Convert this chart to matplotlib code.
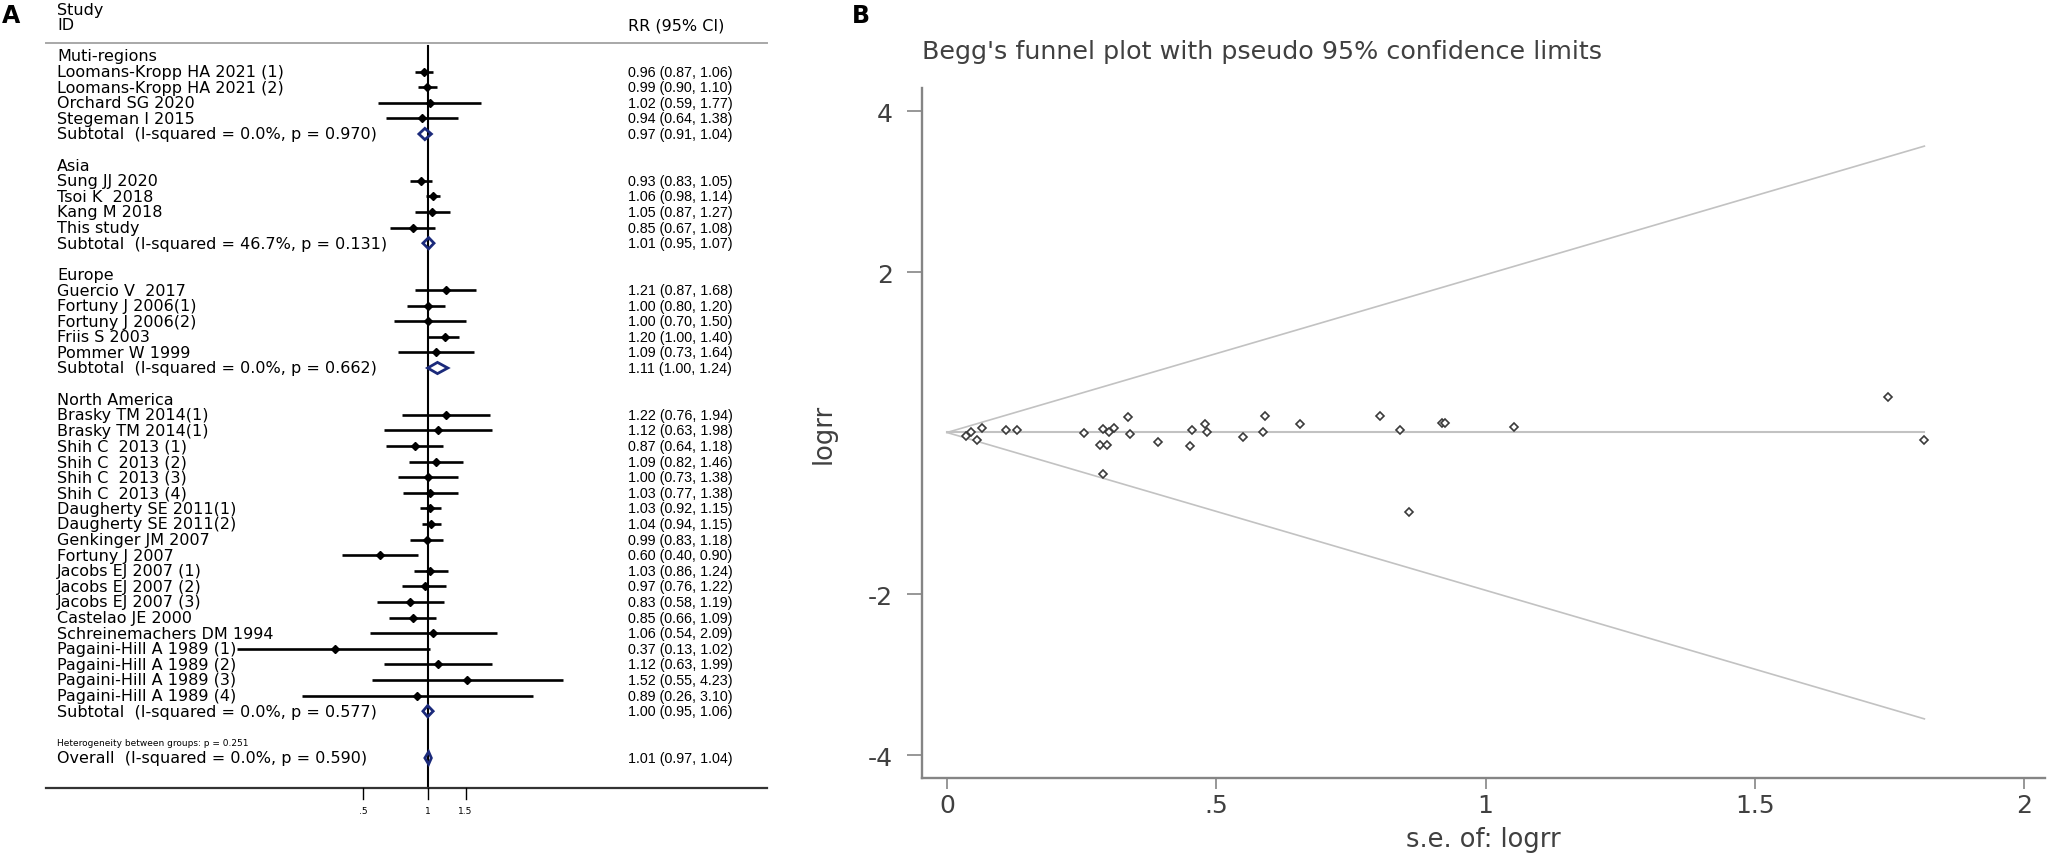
import numpy as np
import matplotlib
matplotlib.use("Agg")
import matplotlib.pyplot as plt
from matplotlib.patches import Polygon
import matplotlib.transforms as mtransforms

plt.rcParams['font.family'] = ['DejaVu Sans']

# ---------------- Forest plot data ----------------
region_names = ["Muti-regions", "Asia", "Europe", "North America"]
study_names = [
    "Loomans-Kropp HA 2021 (1)", "Loomans-Kropp HA 2021 (2)", "Orchard SG 2020", "Stegeman I 2015",
    "Sung JJ 2020", "Tsoi K  2018", "Kang M 2018", "This study",
    "Guercio V  2017", "Fortuny J 2006(1)", "Fortuny J 2006(2)", "Friis S 2003", "Pommer W 1999",
    "Brasky TM 2014(1)", "Brasky TM 2014(1)", "Shih C  2013 (1)", "Shih C  2013 (2)",
    "Shih C  2013 (3)", "Shih C  2013 (4)", "Daugherty SE 2011(1)", "Daugherty SE 2011(2)",
    "Genkinger JM 2007", "Fortuny J 2007", "Jacobs EJ 2007 (1)", "Jacobs EJ 2007 (2)",
    "Jacobs EJ 2007 (3)", "Castelao JE 2000", "Schreinemachers DM 1994",
    "Pagaini-Hill A 1989 (1)", "Pagaini-Hill A 1989 (2)", "Pagaini-Hill A 1989 (3)",
    "Pagaini-Hill A 1989 (4)",
]
study_region = [0] * 4 + [1] * 4 + [2] * 5 + [3] * 19
study_rr = [0.96, 0.99, 1.02, 0.94,
            0.93, 1.06, 1.05, 0.85,
            1.21, 1.00, 1.00, 1.20, 1.09,
            1.22, 1.12, 0.87, 1.09, 1.00, 1.03, 1.03, 1.04, 0.99, 0.60,
            1.03, 0.97, 0.83, 0.85, 1.06, 0.37, 1.12, 1.52, 0.89]
study_lo = [0.87, 0.90, 0.59, 0.64,
            0.83, 0.98, 0.87, 0.67,
            0.87, 0.80, 0.70, 1.00, 0.73,
            0.76, 0.63, 0.64, 0.82, 0.73, 0.77, 0.92, 0.94, 0.83, 0.40,
            0.86, 0.76, 0.58, 0.66, 0.54, 0.13, 0.63, 0.55, 0.26]
study_hi = [1.06, 1.10, 1.77, 1.38,
            1.05, 1.14, 1.27, 1.08,
            1.68, 1.20, 1.50, 1.40, 1.64,
            1.94, 1.98, 1.18, 1.46, 1.38, 1.38, 1.15, 1.15, 1.18, 0.90,
            1.24, 1.22, 1.19, 1.09, 2.09, 1.02, 1.99, 4.23, 3.10]
subtotal_i2 = ["0.0%", "46.7%", "0.0%", "0.0%"]
subtotal_p = ["0.970", "0.131", "0.662", "0.577"]
subtotal_rr = [0.97, 1.01, 1.11, 1.00]
subtotal_lo = [0.91, 0.95, 1.00, 0.95]
subtotal_hi = [1.04, 1.07, 1.24, 1.06]
overall_rr, overall_lo, overall_hi = 1.01, 0.97, 1.04
overall_i2, overall_p = "0.0%", "0.590"
heterogeneity_p = "0.251"
forest_ticks = [0.5, 1.0, 1.5]
forest_tick_labels = [".5", "1", "1.5"]

# ---------------- Funnel plot data ----------------
funnel_se = [0.035, 0.045, 0.055, 0.065, 0.110, 0.130, 0.255,
             0.284, 0.298, 0.290, 0.300, 0.310, 0.336, 0.339, 0.392, 0.452,
             0.455, 0.479, 0.483, 0.549, 0.587, 0.590, 0.655, 0.804, 0.841,
             0.919, 0.925, 1.052, 0.290, 0.858, 1.747, 1.815]
funnel_logrr = [-0.03, 0.02, -0.08, 0.06, 0.04, 0.04, 0.00,
                -0.14, -0.145, 0.05, 0.02, 0.07, 0.206, -0.01, -0.11, -0.16,
                0.045, 0.116, 0.02, -0.04, 0.02, 0.22, 0.115, 0.22, 0.04,
                0.128, 0.128, 0.083, -0.51, -0.98, 0.447, -0.085]
funnel_theta = 0.01
funnel_xticks = [0, 0.5, 1, 1.5, 2]
funnel_xtick_labels = ["0", ".5", "1", "1.5", "2"]
funnel_yticks = [-4, -2, 2, 4]
funnel_ytick_labels = ["-4", "-2", "2", "4"]

# ---------------- Figure ----------------
W, H = 2053, 854
fig = plt.figure(figsize=(W / 100, H / 100), dpi=100)

# ----- Panel A: forest plot -----
A_W = 800
axA = fig.add_axes([0, 0, A_W / W, 1])
x0_px, px_per_ln = 427.7, 93.5
axA.set_xscale('log')
axA.set_xlim(np.exp(-x0_px / px_per_ln), np.exp((A_W - x0_px) / px_per_ln))
row0_px, row_px = 57.0, 15.6
axA.set_ylim((H - row0_px) / row_px, -row0_px / row_px)
axA.axis('off')
trans = mtransforms.blended_transform_factory(axA.transAxes, axA.transData)

lab_x = 57 / A_W
val_x = 628 / A_W
lab_fs = 11.5
val_fs = 10.3
navy = '#1b2a7b'
val_family = ['Liberation Sans', 'DejaVu Sans']

def fmt(rr, lo, hi):
    return f"{rr:.2f} ({lo:.2f}, {hi:.2f})"

def diamond(est, lo, hi, r, h):
    axA.add_patch(Polygon([[lo, r], [est, r - h], [hi, r], [est, r + h]], closed=True,
                          fill=False, edgecolor=navy, lw=2.0, zorder=4))

axA.text(lab_x, -3, "Study", transform=trans, va='center', ha='left', fontsize=lab_fs)
axA.text(lab_x, -2, "ID", transform=trans, va='center', ha='left', fontsize=lab_fs)
axA.text(val_x, -2, "RR (95% CI)", transform=trans, va='center', ha='left', fontsize=lab_fs)
axA.plot([45.5 / A_W, 767 / A_W], [-0.85, -0.85], transform=trans, color='#a8a8a8', lw=1.4)

r = 0
for g, gname in enumerate(region_names):
    axA.text(lab_x, r, gname, transform=trans, va='center', ha='left', fontsize=lab_fs)
    r += 1
    for i in range(len(study_names)):
        if study_region[i] != g:
            continue
        axA.text(lab_x, r, study_names[i], transform=trans, va='center', ha='left', fontsize=lab_fs)
        axA.text(val_x, r, fmt(study_rr[i], study_lo[i], study_hi[i]), transform=trans,
                 va='center', ha='left', fontsize=val_fs, family=val_family)
        axA.plot([study_lo[i], study_hi[i]], [r, r], color='black', lw=1.9, solid_capstyle='butt', zorder=3)
        axA.plot([study_rr[i]], [r], 'D', color='black', ms=4, zorder=5)
        r += 1
    axA.text(lab_x, r, f"Subtotal  (I-squared = {subtotal_i2[g]}, p = {subtotal_p[g]})", transform=trans,
             va='center', ha='left', fontsize=lab_fs)
    axA.text(val_x, r, fmt(subtotal_rr[g], subtotal_lo[g], subtotal_hi[g]), transform=trans,
             va='center', ha='left', fontsize=val_fs, family=val_family)
    diamond(subtotal_rr[g], subtotal_lo[g], subtotal_hi[g], r, 0.36)
    r += 2

axA.text(lab_x, r, f"Heterogeneity between groups: p = {heterogeneity_p}", transform=trans,
         va='center', ha='left', fontsize=6.5)
r += 1
axA.text(lab_x, r, f"Overall  (I-squared = {overall_i2}, p = {overall_p})", transform=trans,
         va='center', ha='left', fontsize=lab_fs)
axA.text(val_x, r, fmt(overall_rr, overall_lo, overall_hi), transform=trans,
         va='center', ha='left', fontsize=val_fs, family=val_family)
diamond(overall_rr, overall_lo, overall_hi, r, 0.4)

axis_row = (789 - row0_px) / row_px
axA.plot([1, 1], [-0.64, axis_row], color='black', lw=1.5, zorder=2)
axA.plot([45.5 / A_W, 767 / A_W], [axis_row, axis_row], transform=trans, color='#333333', lw=1.6)
for t, tl in zip(forest_ticks, forest_tick_labels):
    axA.plot([t, t], [axis_row, axis_row + 0.7], color='black', lw=1.0)
    axA.text(t, axis_row + 1.42, tl, ha='center', va='center', fontsize=6.5)

fig.text(2 / W, 1 - 16 / H, "A", fontsize=17, fontweight='bold', va='center', ha='left')

# ----- Panel B: funnel plot -----
bl, br, bt, bb = 922, 2045, 89, 779
axB = fig.add_axes([bl / W, 1 - bb / H, (br - bl) / W, (bb - bt) / H])
x_origin, px_per_se = 947, 538.5
y_zero, px_per_lr = 434.3, 80.5
axB.set_xlim((bl - x_origin) / px_per_se, (br - x_origin) / px_per_se)
axB.set_ylim((y_zero - bb) / px_per_lr, (y_zero - bt) / px_per_lr)
for s in ['top', 'right']:
    axB.spines[s].set_visible(False)
for s in ['left', 'bottom']:
    axB.spines[s].set_color('#858585')
    axB.spines[s].set_linewidth(1.7)
axB.set_xticks(funnel_xticks)
axB.set_xticklabels(funnel_xtick_labels)
axB.set_yticks(funnel_yticks)
axB.set_yticklabels(funnel_ytick_labels)
axB.tick_params(axis='x', length=8, width=1.2, color='#858585', labelsize=18,
                labelcolor='#404040', pad=3)
axB.tick_params(axis='y', length=10.8, width=1.2, color='#858585', labelsize=18,
                labelcolor='#404040', pad=10)

se_max = max(funnel_se)
axB.plot([0, se_max], [funnel_theta, funnel_theta], color='#c2c2c2', lw=1.5, zorder=2)
axB.plot([0, se_max], [funnel_theta, funnel_theta + 1.96 * se_max], color='#c2c2c2', lw=1.2, zorder=2)
axB.plot([0, se_max], [funnel_theta, funnel_theta - 1.96 * se_max], color='#c2c2c2', lw=1.2, zorder=2)
axB.plot(funnel_se, funnel_logrr, 'D', ls='none', ms=3.6, mfc='white', mec='#3a3a3a',
         mew=1.2, zorder=4, clip_on=False)

axB.set_ylabel("logrr", fontsize=18.5, color='#404040', va='center', ha='center')
axB.yaxis.set_label_coords((824 - bl) / (br - bl), 0.5)
axB.set_xlabel("s.e. of: logrr", fontsize=18.5, color='#404040', va='center', ha='center')
axB.xaxis.set_label_coords(0.5, (bb - 840) / (bb - bt))
axB.set_title("Begg's funnel plot with pseudo 95% confidence limits", loc='left',
              fontsize=18.3, color='#404040', y=(bb - 52) / (bb - bt), va='center', pad=0)

fig.text(852 / W, 1 - 16 / H, "B", fontsize=17, fontweight='bold', va='center', ha='left')

fig.savefig("out.png", dpi=100)
